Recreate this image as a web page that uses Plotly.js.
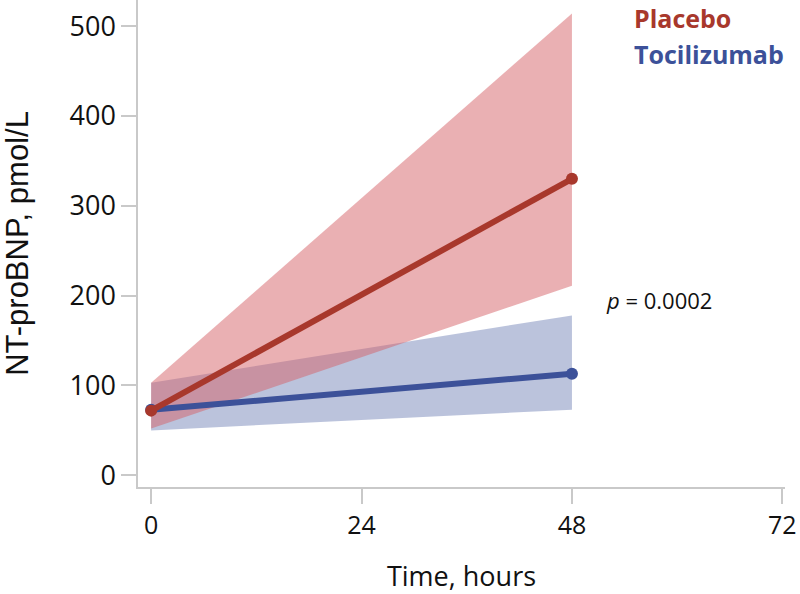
<!DOCTYPE html>
<html>
<head>
<meta charset="utf-8">
<script src="https://cdn.plot.ly/plotly-3.0.1.min.js"></script>
<style>
  html, body { margin: 0; padding: 0; background: #fff; }
  #chart { width: 800px; height: 594px; }
</style>
</head>
<body>
<div id="chart"></div>
<script>
// --- data ---
const hours = [0, 48];
const placeboMean = [72, 330];
const placeboLow = [52, 211];
const placeboHigh = [103, 514];
const tociMean = [73, 113];
const tociLow = [50, 73];
const tociHigh = [103, 178];
const xTicks = [0, 24, 48, 72];
const yTicks = [0, 100, 200, 300, 400, 500];

const red = '#a8382c';
const blue = '#3c5199';
const font = 'Open Sans, DejaVu Sans, sans-serif';
const arial = 'Liberation Sans, Arial, sans-serif';

// band polygon: upper edge forward, lower edge back
function band(x, lo, hi, fill) {
    return {
        x: x.concat(x.slice().reverse()),
        y: hi.concat(lo.slice().reverse()),
        type: 'scatter', mode: 'lines', fill: 'toself',
        fillcolor: fill, line: { width: 0 }, hoverinfo: 'skip', showlegend: false
    };
}

const traces = [
    band(hours, tociLow, tociHigh, 'rgba(92,112,172,0.42)'),
    band(hours, placeboLow, placeboHigh, 'rgba(214,98,103,0.5)'),
    { x: hours, y: tociMean, type: 'scatter', mode: 'lines+markers', name: 'Tocilizumab',
      line: { color: blue, width: 6 }, marker: { color: blue, size: 12 }, showlegend: false },
    { x: hours, y: placeboMean, type: 'scatter', mode: 'lines+markers', name: 'Placebo',
      line: { color: red, width: 6 }, marker: { color: red, size: 12 }, showlegend: false }
];

const axisCommon = {
    showgrid: false, zeroline: false, showline: true,
    linecolor: '#c9c9c9', linewidth: 1.5,
    ticks: 'outside', ticklen: 15, tickcolor: '#c9c9c9', tickwidth: 1.5
};

const layout = {
    width: 800, height: 594,
    margin: { l: 138, r: 15, t: 0, b: 107 },
    paper_bgcolor: '#fff', plot_bgcolor: '#fff',
    font: { family: font },
    xaxis: { ...axisCommon, range: [-1.5, 72.3], tickvals: xTicks,
        ticklabeloverflow: 'allow',
        tickfont: { family: font, size: 25, color: '#111' },
        title: { text: 'Time, hours', font: { family: font, size: 27, color: '#111' }, standoff: 27 } },
    yaxis: { ...axisCommon, range: [-13, 529], tickvals: yTicks,
        tickfont: { family: font, size: 27, color: '#111' },
        title: { text: 'NT-proBNP, pmol/L', font: { family: arial, size: 31, color: '#111' }, standoff: 36 } },
    annotations: [
        { x: (632 - 138) / 647, y: (487 - 18) / 487, xref: 'paper', yref: 'paper', xanchor: 'left', yanchor: 'middle',
          text: '<b>Placebo</b>', showarrow: false, font: { family: font, size: 25, color: red } },
        { x: (632 - 138) / 647, y: (487 - 54) / 487, xref: 'paper', yref: 'paper', xanchor: 'left', yanchor: 'middle',
          text: '<b>Tocilizumab</b>', showarrow: false, font: { family: font, size: 25, color: blue } },
        { x: 51.6, y: 195, xref: 'x', yref: 'y', xanchor: 'left', yanchor: 'middle',
          text: '<i>p</i> = 0.0002', showarrow: false, font: { family: font, size: 22, color: '#111' } }
    ]
};

Plotly.newPlot('chart', traces, layout, { displayModeBar: false, responsive: false });
</script>
</body>
</html>
